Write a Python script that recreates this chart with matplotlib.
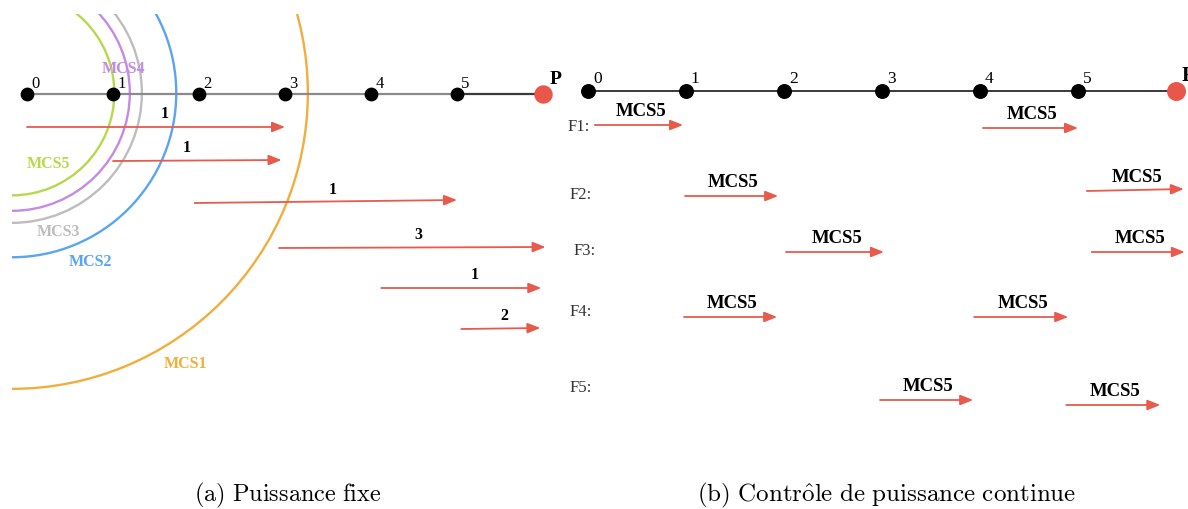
import matplotlib
matplotlib.use("Agg")
import matplotlib.pyplot as plt
from matplotlib.patches import Ellipse, Rectangle

plt.rcParams["mathtext.fontset"] = "cm"

# ---------------- data ----------------
node_labels = ["0", "1", "2", "3", "4", "5"]
dest_label = "P"

# (a) fixed power: flows (start node, end node, hop count label)
fixed_starts = [0.0, 1.0, 1.95, 2.93, 4.12, 5.05]
fixed_ends = [3.0, 2.96, 5.0, 6.03, 5.98, 5.97]
fixed_labels = ["1", "1", "1", "3", "1", "2"]

# MCS coverage circles (radius in inter-node units)
mcs_names = ["MCS5", "MCS4", "MCS3", "MCS2", "MCS1"]
mcs_radius = [1.19, 1.37, 1.51, 1.91, 3.44]
mcs_colors = ["#B6D94C", "#C48BE2", "#BDBDBD", "#5AA4F2", "#F0AE3C"]

# (b) continuous power control: frames and their flows
frames = ["F1:", "F2:", "F3:", "F4:", "F5:"]
cont_frame = [0, 0, 1, 1, 2, 2, 3, 3, 4, 4]
cont_starts = [0.07, 4.03, 0.99, 5.09, 2.02, 5.14, 0.98, 3.94, 2.98, 4.88]
cont_ends = [0.97, 5.0, 1.94, 6.08, 3.02, 6.09, 1.93, 4.90, 3.93, 5.84]
cont_labels = ["MCS5"] * 10

captions = [r"$\mathrm{(a)\ Puissance\ fixe}$",
            r"$\mathrm{(b)\ Contr\hat{o}le\ de\ puissance\ continue}$"]

# ---------------- layout ----------------
W, H = 1188, 509
RED = "#E85A4C"
SERIF = ["Liberation Serif", "DejaVu Serif"]

fig = plt.figure(figsize=(W / 100, H / 100), dpi=100)


def panel(x0, x1, node0, step):
    ax = fig.add_axes([x0 / W, 0, (x1 - x0) / W, 1])
    ax.set_xlim((x0 - node0) / step, (x1 - node0) / step)
    ax.set_ylim(H, 0)
    ax.axis("off")
    return ax


def arrow(ax, xa, xb, ya, yb):
    ax.annotate("", xy=(xb, yb), xytext=(xa, ya),
                arrowprops=dict(arrowstyle="-|>,head_length=0.7,head_width=0.28",
                                color=RED, lw=1.3, shrinkA=0, shrinkB=0,
                                mutation_scale=11))


# ----- panel (a) -----
stepA = 86
axA = panel(0, 560, 27, stepA)
lineA = 94
n = len(node_labels)
axA.plot([0, n - 1], [lineA, lineA], color="#8A8A8A", lw=1.6, zorder=2)
axA.plot([n - 1, n], [lineA, lineA], color="#3A3A3A", lw=1.6, zorder=2)
axA.scatter(range(n), [lineA] * n, s=80, color="black", zorder=4)
axA.scatter([n], [lineA], s=150, color="#E8574A", zorder=4, clip_on=False)
for i, lab in enumerate(node_labels):
    axA.text(i + 0.05, lineA - 2, lab, fontsize=12, family=SERIF,
             ha="left", va="bottom", zorder=5)
axA.text(n + 0.08, lineA - 6, dest_label, fontsize=14, family=SERIF,
         weight="bold", ha="left", va="bottom")

clip = Rectangle(((12 - 27) / stepA, 14), 20, 1000, transform=axA.transData)
cx, cy = (12 - 27) / stepA, 93
for r, col in zip(mcs_radius, mcs_colors):
    e = Ellipse((cx, cy), 2 * r, 2 * r * stepA, fill=False, ec=col, lw=1.7, zorder=1)
    axA.add_patch(e)
    e.set_clip_path(clip)

mcs_text_pos = [((48 - 27) / stepA, 164), ((123 - 27) / stepA, 69),
                ((58 - 27) / stepA, 232), ((90 - 27) / stepA, 262),
                ((186 - 27) / stepA, 364)]
for name, col, (tx, ty) in zip(mcs_names, mcs_colors, mcs_text_pos):
    axA.text(tx, ty, name, color=col, fontsize=11.5, family=SERIF,
             weight="bold", ha="center", va="center", zorder=6)

rowsA = [127, 161, 203, 248, 288, 329]
slopeA = [0, -1, -3, -1, 0, -1]
label_shiftA = [0.1, -0.12, 0.08, 0.07, 0.16, 0.04]
for xs, xe, lab, y, d, sh in zip(fixed_starts, fixed_ends, fixed_labels, rowsA,
                                 slopeA, label_shiftA):
    arrow(axA, xs, xe, y, y + d)
    axA.text((xs + xe) / 2 + sh, y - 5, lab,
             fontsize=11.5, family=SERIF, weight="bold", ha="center", va="bottom")

# ----- panel (b) -----
stepB = 98
axB = panel(560, 1188, 588, stepB)
lineB = 91
axB.plot([0, n], [lineB, lineB], color="#2A2A2A", lw=1.3, zorder=2)
axB.scatter(range(n), [lineB] * n, s=95, color="black", zorder=4)
axB.scatter([n], [lineB], s=160, color="#E8574A", zorder=4, clip_on=False)
for i, lab in enumerate(node_labels):
    axB.text(i + 0.05, lineB - 4, lab, fontsize=12.5, family=SERIF,
             ha="left", va="bottom", zorder=5)
axB.text(n + 0.06, lineB - 5, dest_label, fontsize=15, family=SERIF,
         weight="bold", ha="left", va="bottom")

rowsB = [125, 196, 252, 317, 400]
frame_label_y = [127, 195, 251, 312, 388]
frame_label_x = [(579 - 588) / stepB, (581 - 588) / stepB, (585 - 588) / stepB,
                 (581 - 588) / stepB, (581 - 588) / stepB]
for lab, fx, fy in zip(frames, frame_label_x, frame_label_y):
    axB.text(fx, fy, lab, fontsize=12, family=SERIF, color="#333333",
             ha="center", va="center")

offsB = [0, 3, 0, -5, 0, 0, 0, 0, 0, 5]
for k, (fi, xs, xe, lab) in enumerate(zip(cont_frame, cont_starts, cont_ends, cont_labels)):
    y = rowsB[fi] + offsB[k]
    d = -2 if k == 3 else 0
    arrow(axB, xs, xe, y, y + d)
    axB.text((xs + xe) / 2 + 0.02, y - 5, lab, fontsize=13.5, family=SERIF,
             weight="bold", ha="center", va="bottom")

# ----- captions -----
fig.text(288 / W, 1 - 495 / H, captions[0], fontsize=17.5,
         ha="center", va="center")
fig.text(887 / W, 1 - 495 / H, captions[1], fontsize=18,
         ha="center", va="center")

fig.savefig("out.png", dpi=100)
